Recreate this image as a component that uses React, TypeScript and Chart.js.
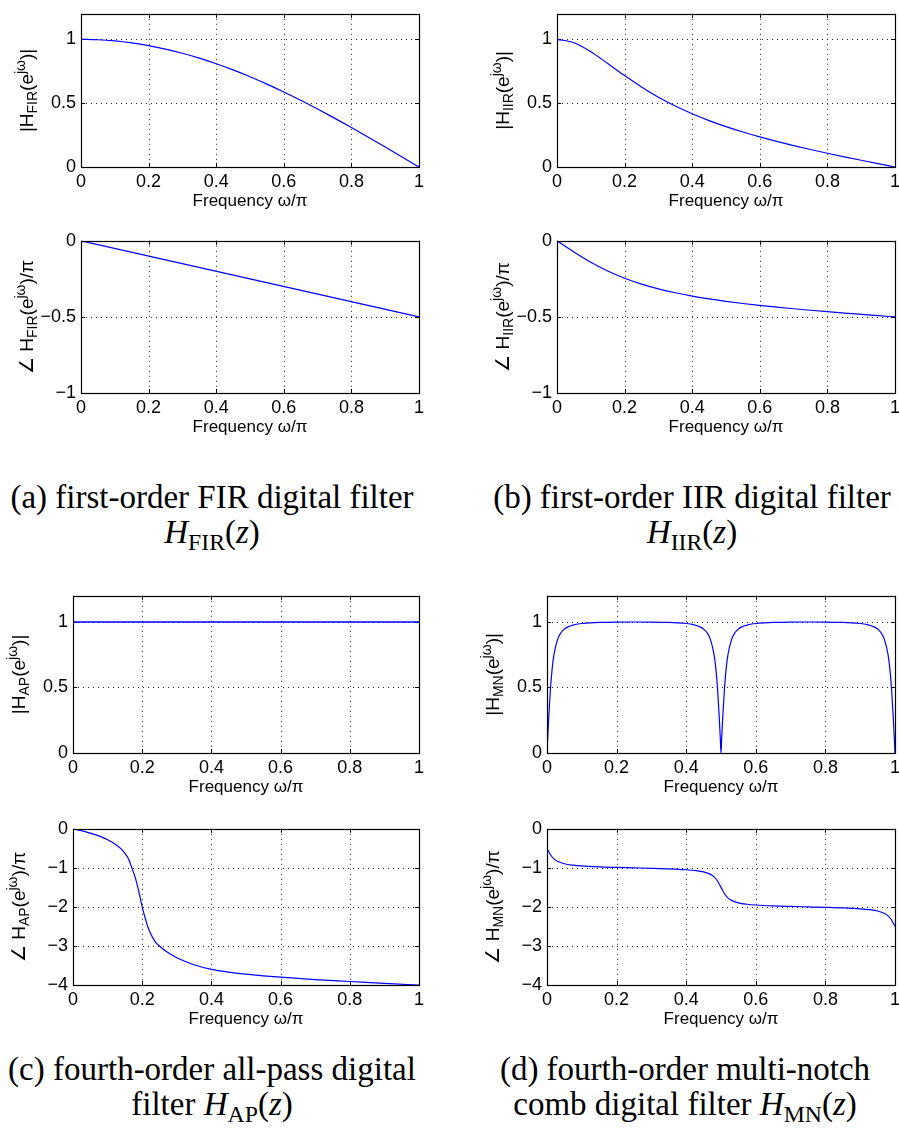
import React, { useEffect, useRef } from "react";
import { Chart, registerables } from "chart.js";

Chart.register(...registerables);
Chart.defaults.font.family = "'Liberation Sans', Arial, sans-serif";

// ---------- tick values ----------
const FREQ_TICKS = [0, 0.2, 0.4, 0.6, 0.8, 1];
const MAG_TICKS = [0, 0.5, 1];
const PHASE_HALF_TICKS = [-1, -0.5, 0];
const PHASE_FOUR_TICKS = [-4, -3, -2, -1, 0];
const X_TITLE = "Frequency ω/π";

// ---------- (a) first-order FIR ----------
const firFreq = [0, 0.05, 0.1, 0.15, 0.2, 0.25, 0.3, 0.35, 0.4, 0.45, 0.5, 0.55, 0.6, 0.65, 0.7, 0.75, 0.8, 0.85, 0.9, 0.95, 1];
const firMag = [1, 0.9969, 0.9877, 0.9724, 0.9511, 0.9239, 0.891, 0.8526, 0.809, 0.7604, 0.7071, 0.6494, 0.5878, 0.5225, 0.454, 0.3827, 0.309, 0.2334, 0.1564, 0.0785, 0];
const firPhaseFreq = [0, 0.25, 0.5, 0.75, 1];
const firPhase = [0, -0.125, -0.25, -0.375, -0.5];

// ---------- (b) first-order IIR ----------
const iirFreq = [0, 0.05, 0.1, 0.15, 0.2, 0.25, 0.3, 0.35, 0.4, 0.45, 0.5, 0.55, 0.6, 0.65, 0.7, 0.75, 0.8, 0.85, 0.9, 0.95, 1];
const iirMag = [1, 0.9733, 0.9033, 0.8114, 0.716, 0.627, 0.547, 0.478, 0.417, 0.3636, 0.316, 0.2738, 0.2354, 0.2001, 0.1674, 0.1368, 0.1077, 0.0798, 0.0527, 0.0262, 0];
const iirPhase = [0, -0.0738, -0.1412, -0.1988, -0.246, -0.2843, -0.3156, -0.3414, -0.363, -0.3817, -0.3976, -0.4118, -0.4243, -0.436, -0.4465, -0.4563, -0.4657, -0.4746, -0.4832, -0.4917, -0.5];

// ---------- (c) fourth-order all-pass ----------
const apMagFreq = [0, 0.25, 0.5, 0.75, 1];
const apMag = [1, 1, 1, 1, 1];
const apPhaseFreq = [0, 0.02, 0.05, 0.08, 0.1, 0.12, 0.14, 0.15, 0.16, 0.17, 0.18, 0.19, 0.2, 0.21, 0.22, 0.23, 0.24, 0.25, 0.26, 0.28, 0.3, 0.35, 0.4, 0.45, 0.5, 0.6, 0.7, 0.8, 0.9, 1];
const apPhase = [0, -0.04, -0.11, -0.2, -0.28, -0.38, -0.52, -0.63, -0.76, -1.0, -1.25, -1.6, -2.0, -2.33, -2.6, -2.78, -2.92, -3.0, -3.08, -3.2, -3.3, -3.48, -3.6, -3.67, -3.72, -3.8, -3.86, -3.91, -3.96, -4.0];

// ---------- (d) fourth-order multi-notch comb ----------
const mnMagFreq = [0, 0.002, 0.005, 0.01, 0.015, 0.02, 0.03, 0.04, 0.05, 0.06, 0.08, 0.1, 0.125, 0.15, 0.2, 0.25, 0.3, 0.35, 0.375, 0.4, 0.42, 0.44, 0.45, 0.46, 0.47, 0.48, 0.485, 0.49, 0.495, 0.498, 0.5, 0.502, 0.505, 0.51, 0.515, 0.52, 0.53, 0.54, 0.55, 0.56, 0.58, 0.6, 0.625, 0.65, 0.7, 0.75, 0.8, 0.85, 0.875, 0.9, 0.92, 0.94, 0.95, 0.96, 0.97, 0.98, 0.985, 0.99, 0.995, 0.998, 1];
const mnMag = [0, 0.112, 0.272, 0.493, 0.648, 0.751, 0.864, 0.918, 0.946, 0.963, 0.98, 0.9885, 0.994, 0.997, 0.9994, 1, 0.9994, 0.997, 0.994, 0.9885, 0.98, 0.963, 0.946, 0.918, 0.864, 0.751, 0.648, 0.493, 0.272, 0.112, 0, 0.112, 0.272, 0.493, 0.648, 0.751, 0.864, 0.918, 0.946, 0.963, 0.98, 0.9885, 0.994, 0.997, 0.9994, 1, 0.9994, 0.997, 0.994, 0.9885, 0.98, 0.963, 0.946, 0.918, 0.864, 0.751, 0.648, 0.493, 0.272, 0.112, 0];
const mnPhaseFreq = [0, 0.005, 0.01, 0.02, 0.03, 0.05, 0.075, 0.1, 0.15, 0.2, 0.25, 0.3, 0.35, 0.4, 0.425, 0.45, 0.47, 0.48, 0.49, 0.495, 0.5, 0.505, 0.51, 0.52, 0.53, 0.55, 0.575, 0.6, 0.65, 0.7, 0.75, 0.8, 0.85, 0.9, 0.925, 0.95, 0.97, 0.98, 0.99, 0.995, 1];
const mnPhase = [-0.5, -0.5877, -0.664, -0.7704, -0.8321, -0.895, -0.9316, -0.9517, -0.9744, -0.9885, -1.0, -1.0115, -1.0256, -1.0483, -1.0684, -1.105, -1.1679, -1.2296, -1.336, -1.4123, -1.5, -1.5877, -1.664, -1.7704, -1.8321, -1.895, -1.9316, -1.9517, -1.9744, -1.9885, -2.0, -2.0115, -2.0256, -2.0483, -2.0684, -2.105, -2.1679, -2.2296, -2.336, -2.4123, -2.5];

// ---------- label pieces ----------
type Seg = [string, "n" | "b" | "p"];
const magLabel = (s: string): Seg[] => [["|H", "n"], [s, "b"], ["(e", "n"], ["jω", "p"], [")|", "n"]];
const phaseLabel = (s: string): Seg[] => [["∠ H", "n"], [s, "b"], ["(e", "n"], ["jω", "p"], [")/π", "n"]];

const Y_AXIS_W = 75;
const X_AXIS_H = 46;
const PAD_TOP = 12;
const PAD_RIGHT = 15;

const fmtX = (v: number) => (v === 0 ? "0" : v === 1 ? "1" : v.toFixed(1));
const fmtY = (v: number) => (v < 0 ? "\u2212" + String(Math.abs(v)) : String(v));

type PanelCfg = {
  key: string;
  left: number; top: number; right: number; bottom: number;
  yMin: number; yMax: number; yTicks: number[];
  xs: number[]; ys: number[];
  label: Seg[];
  lw?: number;
};

const panels: PanelCfg[] = [
  { key: "a1", left: 81, top: 10, right: 419, bottom: 167, yMin: 0, yMax: 1.2, yTicks: MAG_TICKS, xs: firFreq, ys: firMag, label: magLabel("FIR") },
  { key: "a2", left: 81, top: 237, right: 419, bottom: 393, yMin: -1, yMax: 0, yTicks: PHASE_HALF_TICKS, xs: firPhaseFreq, ys: firPhase, label: phaseLabel("FIR") },
  { key: "b1", left: 557, top: 10, right: 895, bottom: 167, yMin: 0, yMax: 1.2, yTicks: MAG_TICKS, xs: iirFreq, ys: iirMag, label: magLabel("IIR") },
  { key: "b2", left: 557, top: 237, right: 895, bottom: 393, yMin: -1, yMax: 0, yTicks: PHASE_HALF_TICKS, xs: iirFreq, ys: iirPhase, label: phaseLabel("IIR") },
  { key: "c1", left: 73, top: 592, right: 419, bottom: 753, yMin: 0, yMax: 1.2, yTicks: MAG_TICKS, xs: apMagFreq, ys: apMag, label: magLabel("AP"), lw: 1.6 },
  { key: "c2", left: 73, top: 825, right: 419, bottom: 985, yMin: -4, yMax: 0, yTicks: PHASE_FOUR_TICKS, xs: apPhaseFreq, ys: apPhase, label: phaseLabel("AP") },
  { key: "d1", left: 547, top: 592, right: 895, bottom: 753, yMin: 0, yMax: 1.2, yTicks: MAG_TICKS, xs: mnMagFreq, ys: mnMag, label: magLabel("MN") },
  { key: "d2", left: 547, top: 825, right: 895, bottom: 985, yMin: -4, yMax: 0, yTicks: PHASE_FOUR_TICKS, xs: mnPhaseFreq, ys: mnPhase, label: phaseLabel("MN") },
];

function makeFramePlugin(cfg: PanelCfg) {
  return {
    id: "frame_" + cfg.key,
    beforeDatasetsDraw(chart: any) {
      const { ctx, chartArea: a, scales } = chart;
      const xs = scales.x, ys = scales.y;
      ctx.save();
      ctx.strokeStyle = "#222";
      ctx.lineWidth = 1;
      ctx.setLineDash([1, 4]);
      for (const v of FREQ_TICKS) {
        const px = Math.round(xs.getPixelForValue(v)) + 0.5;
        if (px <= a.left + 2 || px >= a.right - 2) continue;
        ctx.beginPath(); ctx.moveTo(px, a.top); ctx.lineTo(px, a.bottom); ctx.stroke();
      }
      for (const v of cfg.yTicks) {
        const py = Math.round(ys.getPixelForValue(v)) + 0.5;
        if (py <= a.top + 2 || py >= a.bottom - 2) continue;
        ctx.beginPath(); ctx.moveTo(a.left, py); ctx.lineTo(a.right, py); ctx.stroke();
      }
      ctx.setLineDash([]);
      ctx.strokeStyle = "#000";
      const tl = 4;
      for (const v of FREQ_TICKS) {
        const px = Math.round(xs.getPixelForValue(v)) + 0.5;
        ctx.beginPath();
        ctx.moveTo(px, a.bottom); ctx.lineTo(px, a.bottom - tl);
        ctx.moveTo(px, a.top); ctx.lineTo(px, a.top + tl);
        ctx.stroke();
      }
      for (const v of cfg.yTicks) {
        const py = Math.round(ys.getPixelForValue(v)) + 0.5;
        ctx.beginPath();
        ctx.moveTo(a.left, py); ctx.lineTo(a.left + tl, py);
        ctx.moveTo(a.right, py); ctx.lineTo(a.right - tl, py);
        ctx.stroke();
      }
      ctx.restore();
    },
    afterDraw(chart: any) {
      const { ctx, chartArea: a } = chart;
      ctx.save();
      ctx.strokeStyle = "#000";
      ctx.lineWidth = 1.2;
      ctx.strokeRect(Math.round(a.left) + 0.5, Math.round(a.top) + 0.5, Math.round(a.right - a.left), Math.round(a.bottom - a.top));
      // y label with sub/superscripts
      const fam = "'Liberation Sans', Arial, sans-serif";
      const fonts: Record<string, string> = { n: `19px ${fam}`, b: `14px ${fam}`, p: `14px ${fam}` };
      const shift: Record<string, number> = { n: 0, b: 4, p: -8 };
      let total = 0;
      for (const [t, k] of cfg.label) { ctx.font = fonts[k]; total += ctx.measureText(t).width; }
      ctx.translate(a.left - 48, (a.top + a.bottom) / 2);
      ctx.rotate(-Math.PI / 2);
      ctx.fillStyle = "#000";
      ctx.textBaseline = "alphabetic";
      ctx.textAlign = "left";
      let x = -total / 2;
      for (const [t, k] of cfg.label) {
        ctx.font = fonts[k];
        ctx.fillText(t, x, shift[k]);
        x += ctx.measureText(t).width;
      }
      ctx.restore();
    },
  };
}

function Panel({ cfg }: { cfg: PanelCfg }) {
  const ref = useRef<HTMLCanvasElement | null>(null);
  const cl = cfg.left - Y_AXIS_W;
  const ct = cfg.top - PAD_TOP;
  const w = cfg.right + PAD_RIGHT - cl;
  const h = cfg.bottom + X_AXIS_H - ct;
  useEffect(() => {
    if (!ref.current) return;
    const chart = new Chart(ref.current, {
      type: "scatter",
      data: {
        datasets: [
          {
            data: cfg.xs.map((x, i) => ({ x, y: cfg.ys[i] })),
            borderColor: "#0000ff",
            backgroundColor: "#0000ff",
            borderWidth: cfg.lw ?? 1.2,
            pointRadius: 0,
            showLine: true,
            cubicInterpolationMode: "monotone",
          } as any,
        ],
      },
      options: {
        animation: false,
        responsive: false,
        maintainAspectRatio: false,
        devicePixelRatio: 1,
        layout: { padding: { left: 0, top: PAD_TOP, right: PAD_RIGHT, bottom: 0 } },
        plugins: { legend: { display: false }, tooltip: { enabled: false }, title: { display: false } },
        scales: {
          x: {
            type: "linear",
            min: 0,
            max: 1,
            afterBuildTicks: (s: any) => { s.ticks = FREQ_TICKS.map((v) => ({ value: v })); },
            afterFit: (s: any) => { s.height = X_AXIS_H; },
            ticks: { callback: (v: any) => fmtX(Number(v)), font: { size: 18 }, color: "#000", padding: 4, maxRotation: 0, autoSkip: false },
            grid: { display: false, drawTicks: false },
            border: { display: false },
            title: { display: true, text: X_TITLE, font: { size: 17 }, color: "#000", padding: { top: 0, bottom: 1 } },
          },
          y: {
            type: "linear",
            min: cfg.yMin,
            max: cfg.yMax,
            afterBuildTicks: (s: any) => { s.ticks = cfg.yTicks.map((v) => ({ value: v })); },
            afterFit: (s: any) => { s.width = Y_AXIS_W; },
            ticks: { callback: (v: any) => fmtY(Number(v)), font: { size: 18 }, color: "#000", padding: 5, autoSkip: false },
            grid: { display: false, drawTicks: false },
            border: { display: false },
          },
        },
      } as any,
      plugins: [makeFramePlugin(cfg)],
    });
    return () => chart.destroy();
  }, []);
  return (
    <canvas
      ref={ref}
      width={w}
      height={h}
      style={{ position: "absolute", left: cl, top: ct, width: w, height: h }}
    />
  );
}

const serif = "'Liberation Serif', 'Times New Roman', serif";
const subStyle: React.CSSProperties = { fontSize: "0.72em", position: "relative", top: "0.32em" };

function Sym({ s }: { s: string }) {
  return (
    <span>
      <i>H</i>
      <span style={subStyle}>{s}</span>(<i>z</i>)
    </span>
  );
}

function Caption({ cx, cy, line1, line2 }: { cx: number; cy: number; line1: React.ReactNode; line2: React.ReactNode }) {
  const lh = 35;
  return (
    <div
      style={{
        position: "absolute",
        left: cx - 240,
        top: cy - lh / 2,
        width: 480,
        textAlign: "center",
        fontFamily: serif,
        fontSize: 33,
        lineHeight: `${lh}px`,
        color: "#000",
        whiteSpace: "nowrap",
      }}
    >
      <div>{line1}</div>
      <div>{line2}</div>
    </div>
  );
}

export default function App() {
  return (
    <div
      style={{
        position: "absolute",
        left: 0,
        top: 0,
        width: 899,
        height: 1144,
        overflow: "hidden",
        background: "#fff",
      }}
    >
      {panels.map((p) => (
        <Panel key={p.key} cfg={p} />
      ))}
      <Caption cx={212} cy={497} line1="(a) first-order FIR digital filter" line2={<Sym s="FIR" />} />
      <Caption cx={692} cy={497} line1="(b) first-order IIR digital filter" line2={<Sym s="IIR" />} />
      <Caption cx={212} cy={1069} line1="(c) fourth-order all-pass digital" line2={<span>filter <Sym s="AP" /></span>} />
      <Caption cx={685} cy={1069} line1="(d) fourth-order multi-notch" line2={<span>comb digital filter <Sym s="MN" /></span>} />
    </div>
  );
}
